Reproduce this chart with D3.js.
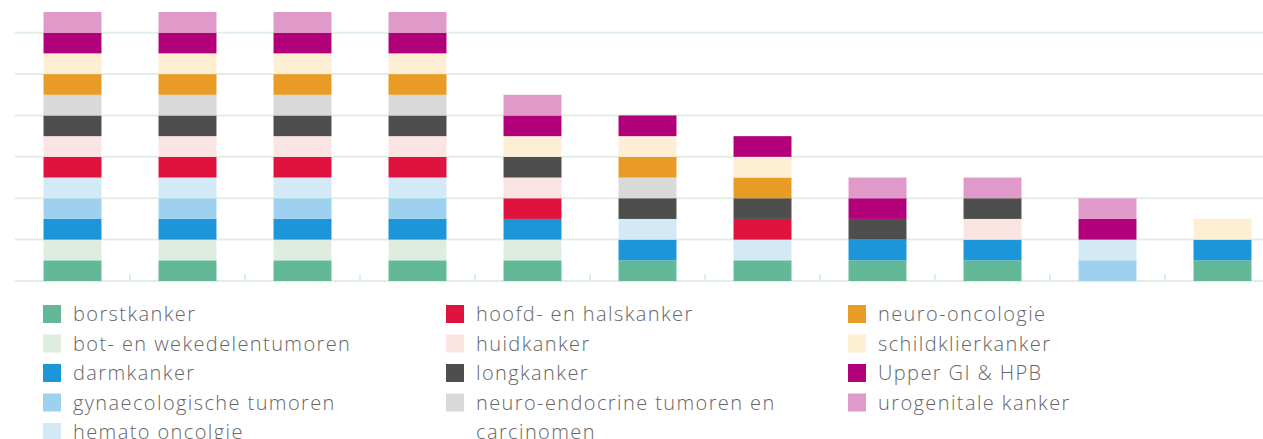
<!DOCTYPE html>
<html><head><meta charset="utf-8">
<script src="https://cdn.jsdelivr.net/npm/d3@7"></script>
<style>
html,body{margin:0;padding:0;background:#fff;overflow:hidden}
svg{display:block}
</style></head>
<body><svg id="c" width="1263" height="439"></svg>
<script>
const groups = ["1","2","3","4","5","6","7","8","9","10","11"];
const categories = ["borstkanker","bot- en wekedelentumoren","darmkanker","gynaecologische tumoren","hemato oncolgie","hoofd- en halskanker","huidkanker","longkanker","neuro-endocrine tumoren en carcinomen","neuro-oncologie","schildklierkanker","Upper GI & HPB","urogenitale kanker"];
const colors = ["#63b997","#dfede0","#1c96d8","#9dd1ef","#d3eaf6","#e0133f","#fae5e3","#4e4e4e","#d9d9d9","#e89c25","#feefd4","#b2007a","#e09aca"];
// values per category across the 11 groups
const borstkanker      = [1,1,1,1,1,1,1,1,1,0,1];
const botWekedelen     = [1,1,1,1,1,0,0,0,0,0,0];
const darmkanker       = [1,1,1,1,1,1,0,1,1,0,1];
const gynaecologisch   = [1,1,1,1,0,0,0,0,0,1,0];
const hematoOncologie  = [1,1,1,1,0,1,1,0,0,1,0];
const hoofdHals        = [1,1,1,1,1,0,1,0,0,0,0];
const huidkanker       = [1,1,1,1,1,0,0,0,1,0,0];
const longkanker       = [1,1,1,1,1,1,1,1,1,0,0];
const neuroEndocrine   = [1,1,1,1,0,1,0,0,0,0,0];
const neuroOncologie   = [1,1,1,1,0,1,1,0,0,0,0];
const schildklier      = [1,1,1,1,1,1,1,0,0,0,1];
const upperGI          = [1,1,1,1,1,1,1,1,0,1,0];
const urogenitaal      = [1,1,1,1,1,0,0,1,1,1,0];
const yTicks = [0,2,4,6,8,10,12];

const series = [borstkanker,botWekedelen,darmkanker,gynaecologisch,hematoOncologie,hoofdHals,huidkanker,longkanker,neuroEndocrine,neuroOncologie,schildklier,upperGI,urogenitaal];
const rows = groups.map((g,i)=>{const o={group:g};categories.forEach((c,k)=>o[c]=series[k][i]);return o;});

const svg = d3.select("#c");
const x0 = 15, x1 = 15 + 115*groups.length;
const x = d3.scaleBand().domain(groups).range([x0,x1]).paddingInner(0.496).paddingOuter(0.248);
const y = d3.scaleLinear().domain([0,13]).range([281,12]);
const color = d3.scaleOrdinal().domain(categories).range(colors);

const grid = "#e1efe3";
svg.append("g").selectAll("line").data(yTicks).join("line")
  .attr("x1",x0).attr("x2",1263).attr("y1",d=>y(d)).attr("y2",d=>y(d))
  .attr("stroke",grid).attr("stroke-width",2);
const step = x.step();
svg.append("g").selectAll("line").data(groups.slice(1)).join("line")
  .attr("x1",d=>x(d)-(step-x.bandwidth())/2)
  .attr("x2",d=>x(d)-(step-x.bandwidth())/2)
  .attr("y1",y(0)).attr("y2",y(0)-7)
  .attr("stroke",grid).attr("stroke-width",2);

const stack = d3.stack().keys(categories)(rows);
svg.append("g").selectAll("g").data(stack).join("g")
  .attr("fill",d=>color(d.key))
  .selectAll("rect").data(d=>d.filter(p=>p[1]>p[0])).join("rect")
  .attr("x",d=>x(d.data.group)).attr("width",x.bandwidth())
  .attr("y",d=>y(d[1])).attr("height",d=>y(d[0])-y(d[1]));

// legend
const colX = [43,446,848];
const rowY0 = 305, rowH = 29.5;
const leg = svg.append("g").attr("font-family","'Open Sans', Lato, sans-serif").attr("font-weight",300)
  .attr("font-size",20).attr("letter-spacing","1.4px").attr("fill","#666");
categories.forEach((c,i)=>{
  const col = i<5?0:(i<9?1:2);
  const r = i<5?i:(i<9?i-5:i-9);
  const gx = colX[col], gy = rowY0 + r*rowH;
  leg.append("rect").attr("x",gx).attr("y",gy).attr("width",18).attr("height",18).attr("fill",color(c));
  const t = leg.append("text").attr("x",gx+30).attr("y",gy+16);
  const words = c.split(" ");
  let line = [], lines = [];
  const tmp = leg.append("text").attr("visibility","hidden");
  words.forEach(w=>{const test=[...line,w].join(" ");tmp.text(test);
    if(tmp.node().getComputedTextLength()>340 && line.length){lines.push(line.join(" "));line=[w];} else line.push(w);});
  lines.push(line.join(" "));tmp.remove();
  lines.forEach((l,k)=>t.append("tspan").attr("x",gx+30).attr("dy",k?rowH:0).text(l));
});
</script></body></html>
